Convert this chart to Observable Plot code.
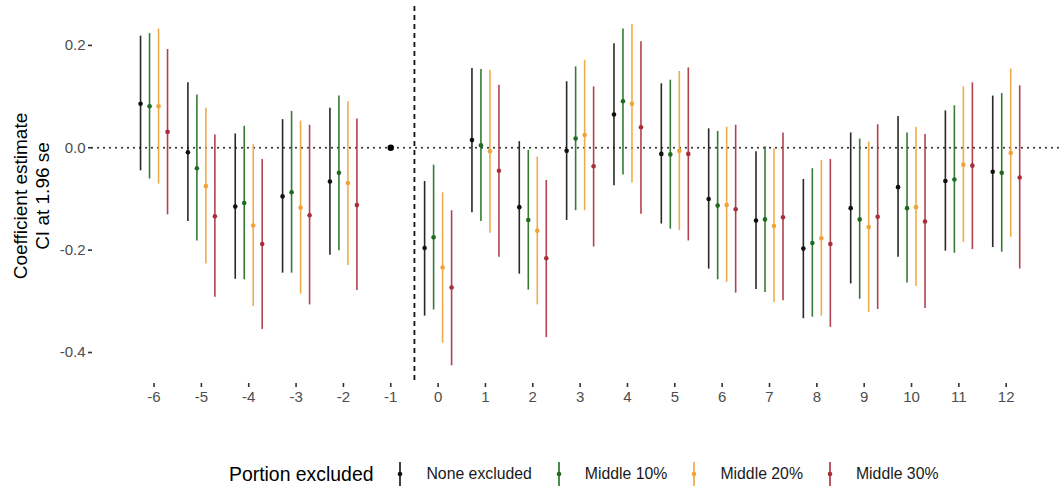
<!DOCTYPE html>
<html>
<head>
<meta charset="utf-8">
<script src="https://cdn.jsdelivr.net/npm/d3@7"></script>
<script src="https://cdn.jsdelivr.net/npm/@observablehq/plot@0.6"></script>
<style>
  body { margin: 0; background: #fff; font-family: "Liberation Sans", Arial, sans-serif; }
  #chart { position: relative; width: 1064px; height: 488px; }
  #legend { position: absolute; left: 0; top: 460px; height: 28px; display: flex; align-items: center; padding-left: 229px; }
  #legend .title { font-size: 19.4px; color: #000; }
  #legend .lab { font-size: 15.8px; color: #1a1a1a; }
  #legend svg { margin-left: 21px; margin-right: 20px; }
</style>
</head>
<body>
<div id="chart"><div id="plot"></div><div id="legend"></div></div>
<script>
// ---- data ----
const periods = [-6, -5, -4, -3, -2, 0, 1, 2, 3, 4, 5, 6, 7, 8, 9, 10, 11, 12];
const tickLabels = [-6, -5, -4, -3, -2, -1, 0, 1, 2, 3, 4, 5, 6, 7, 8, 9, 10, 11, 12];
const yTicks = [-0.4, -0.2, 0.0, 0.2];
const seriesNames = ["None excluded", "Middle 10%", "Middle 20%", "Middle 30%"];
const seriesColors = ["#111111", "#1f6b1f", "#f0a336", "#a82e3c"];
const referencePeriod = -1;
const referenceValue = 0;

const estNone = [0.086, -0.009, -0.115, -0.095, -0.066, -0.196, 0.015, -0.116, -0.006, 0.065, -0.012, -0.100, -0.142, -0.197, -0.118, -0.077, -0.065, -0.047];
const lowNone = [-0.045, -0.144, -0.257, -0.245, -0.210, -0.329, -0.127, -0.247, -0.142, -0.074, -0.149, -0.237, -0.277, -0.334, -0.266, -0.214, -0.202, -0.195];
const highNone = [0.218, 0.127, 0.027, 0.055, 0.077, -0.066, 0.155, 0.012, 0.129, 0.203, 0.125, 0.037, -0.008, -0.062, 0.029, 0.061, 0.072, 0.101];

const est10 = [0.081, -0.040, -0.108, -0.087, -0.049, -0.175, 0.005, -0.141, 0.018, 0.091, -0.013, -0.113, -0.140, -0.186, -0.140, -0.118, -0.062, -0.049];
const low10 = [-0.061, -0.182, -0.258, -0.245, -0.201, -0.317, -0.144, -0.278, -0.123, -0.053, -0.159, -0.258, -0.283, -0.331, -0.296, -0.264, -0.206, -0.204];
const high10 = [0.223, 0.103, 0.042, 0.071, 0.101, -0.034, 0.153, -0.005, 0.158, 0.232, 0.132, 0.032, 0.002, -0.041, 0.017, 0.029, 0.082, 0.106];

const est20 = [0.081, -0.075, -0.152, -0.117, -0.069, -0.234, -0.007, -0.162, 0.025, 0.086, -0.006, -0.112, -0.153, -0.177, -0.155, -0.116, -0.033, -0.010];
const low20 = [-0.071, -0.227, -0.310, -0.286, -0.230, -0.382, -0.167, -0.307, -0.123, -0.069, -0.162, -0.263, -0.303, -0.329, -0.322, -0.271, -0.185, -0.175];
const high20 = [0.232, 0.077, 0.006, 0.052, 0.090, -0.088, 0.151, -0.018, 0.171, 0.241, 0.149, 0.040, -0.002, -0.025, 0.011, 0.040, 0.119, 0.154];

const est30 = [0.031, -0.134, -0.188, -0.132, -0.112, -0.273, -0.045, -0.216, -0.036, 0.040, -0.012, -0.120, -0.136, -0.188, -0.135, -0.144, -0.035, -0.058];
const low30 = [-0.131, -0.292, -0.355, -0.307, -0.279, -0.426, -0.214, -0.371, -0.194, -0.130, -0.182, -0.284, -0.299, -0.351, -0.316, -0.314, -0.199, -0.237];
const high30 = [0.192, 0.025, -0.023, 0.044, 0.056, -0.123, 0.122, -0.064, 0.119, 0.207, 0.156, 0.044, 0.029, -0.023, 0.045, 0.026, 0.127, 0.121];

// ---- build table ----
const ests = [estNone, est10, est20, est30];
const lows = [lowNone, low10, low20, low30];
const highs = [highNone, high10, high20, high30];
const dodge = [-0.285, -0.095, 0.095, 0.285];
const rows = [];
seriesNames.forEach((s, i) => {
  periods.forEach((p, j) => {
    rows.push({ period: p, x: p + dodge[i], series: s, est: ests[i][j], low: lows[i][j], high: highs[i][j] });
  });
});

const plot = Plot.plot({
  width: 1064,
  height: 440,
  marginLeft: 92,
  marginRight: 1,
  marginTop: 6,
  marginBottom: 57,
  style: { fontFamily: "Liberation Sans, Arial, sans-serif", fontSize: "15px", color: "#4d4d4d", background: "#fff" },
  x: { domain: [-7.30, 13.21], label: null },
  y: { domain: [-0.4606, 0.276], label: null },
  color: { domain: seriesNames, range: seriesColors },
  marks: [
    Plot.ruleY([0], { stroke: "#222", strokeWidth: 2, strokeDasharray: "0,6", strokeLinecap: "round" }),
    Plot.ruleX([-0.5], { stroke: "#111", strokeWidth: 1.8, strokeDasharray: "5,4" }),
    Plot.ruleX(rows, { x: "x", y1: "low", y2: "high", stroke: "series", strokeWidth: 1.6, strokeOpacity: 0.9 }),
    Plot.dot(rows, { x: "x", y: "est", fill: "series", r: 2.3, stroke: "none" }),
    Plot.dot([{ x: referencePeriod, y: referenceValue }], { x: "x", y: "y", fill: "#000", r: 3.2, stroke: "none" }),
    Plot.axisX({ ticks: tickLabels, tickFormat: d => String(d), tickSize: 4, tickPadding: 4, stroke: "#333", strokeWidth: 1.6, fill: "#4d4d4d", label: null }),
    Plot.axisY({ ticks: yTicks, tickFormat: d => d.toFixed(1), tickSize: 4, tickPadding: 3, stroke: "#333", strokeWidth: 1.6, fill: "#4d4d4d", label: null })
  ]
});
document.getElementById("plot").appendChild(plot);

// axis title (two lines, rotated)
const svg = d3.select(plot);
const g = svg.append("g").attr("transform", "translate(31,196) rotate(-90)");
g.append("text").attr("y", -11).attr("text-anchor", "middle").attr("dominant-baseline", "central")
  .attr("font-size", "19px").attr("fill", "#000").text("Coefficient estimate");
g.append("text").attr("y", 11).attr("text-anchor", "middle").attr("dominant-baseline", "central")
  .attr("font-size", "19px").attr("fill", "#000").text("CI at 1.96 se");

// legend
const legend = d3.select("#legend");
legend.append("span").attr("class", "title").text("Portion excluded");
seriesNames.forEach((s, i) => {
  const k = legend.append("svg").attr("width", 12).attr("height", 26);
  k.append("line").attr("x1", 6).attr("x2", 6).attr("y1", 1).attr("y2", 25).attr("stroke", seriesColors[i]).attr("stroke-width", 1.6);
  k.append("circle").attr("cx", 6).attr("cy", 13).attr("r", 2.3).attr("fill", seriesColors[i]);
  legend.append("span").attr("class", "lab").text(s);
});
</script>
</body>
</html>
